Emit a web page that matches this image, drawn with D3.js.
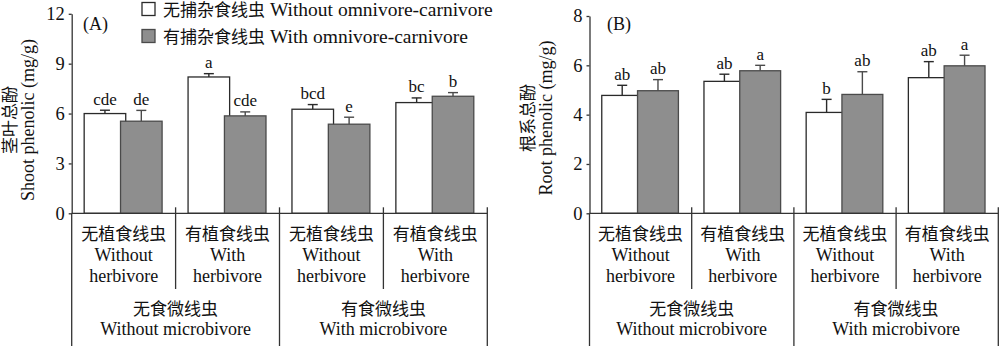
<!DOCTYPE html>
<html>
<head>
<meta charset="utf-8">
<script src="https://cdn.jsdelivr.net/npm/d3@7/dist/d3.min.js"></script>
<style>
  html, body { margin: 0; padding: 0; background: #fff; }
  svg { display: block; }
  text { font-family: "Liberation Serif", "Noto Sans CJK SC", serif; fill: #111; }
</style>
</head>
<body>
<svg id="chart" width="1000" height="346"></svg>
<script>
// Treatment groups along the x axis
const groups = ["G1", "G2", "G3", "G4"];
const herbivoreCN = ["无植食线虫", "有植食线虫", "无植食线虫", "有植食线虫"];
const herbivoreEN1 = ["Without", "With", "Without", "With"];
const herbivoreEN2 = ["herbivore", "herbivore", "herbivore", "herbivore"];
const microbivoreCN = ["无食微线虫", "有食微线虫"];
const microbivoreEN = ["Without microbivore", "With microbivore"];
const seriesNamesCN = ["无捕杂食线虫", "有捕杂食线虫"];
const seriesNamesEN = ["Without omnivore-carnivore", "With omnivore-carnivore"];

// (A) shoot phenolic, mg/g
const shootWithout = [6.0, 8.2, 6.26, 6.66];
const shootWithoutErr = [0.2, 0.2, 0.28, 0.28];
const shootWith = [5.54, 5.86, 5.36, 7.04];
const shootWithErr = [0.65, 0.24, 0.42, 0.22];
const shootLettersWithout = ["cde", "a", "bcd", "bc"];
const shootLettersWith = ["de", "cde", "e", "b"];
const shootTicks = [0, 3, 6, 9, 12];

// (B) root phenolic, mg/g
const rootWithout = [4.78, 5.35, 4.09, 5.5];
const rootWithoutErr = [0.41, 0.29, 0.53, 0.65];
const rootWith = [4.97, 5.78, 4.82, 5.98];
const rootWithErr = [0.45, 0.22, 0.92, 0.43];
const rootLettersWithout = ["ab", "ab", "b", "ab"];
const rootLettersWith = ["ab", "a", "ab", "a"];
const rootTicks = [0, 2, 4, 6, 8];

const svg = d3.select("#chart");
const H = 346;
const GREY = "#8e8e8e";

function drawPanel(opt) {
  const g = svg.append("g");
  const y = d3.scaleLinear().domain([0, opt.ticks[opt.ticks.length - 1]]).range([213.3, opt.top]);
  const x = d3.scaleBand().domain(groups).range([opt.left, opt.right]).padding(0);
  const bw = x.bandwidth();
  // bar offsets within a group
  const sub = d3.scaleOrdinal().domain([0, 1]).range([0.12, 0.47]);
  const barW = bw * 0.40;

  const series = [
    { vals: opt.without, errs: opt.withoutErr, letters: opt.lettersWithout, fill: "#fff", stroke: "#2a2a2a" },
    { vals: opt.with, errs: opt.withErr, letters: opt.lettersWith, fill: GREY, stroke: "#4a4a4a" }
  ];

  series.forEach((s, si) => {
    const items = groups.map((k, i) => ({ k, v: s.vals[i], e: s.errs[i], l: s.letters[i] }));
    const bx = d => x(d.k) + bw * sub(si);
    // error bars
    g.selectAll(null).data(items).enter().append("line")
      .attr("x1", d => bx(d) + barW / 2).attr("x2", d => bx(d) + barW / 2)
      .attr("y1", d => y(d.v)).attr("y2", d => y(d.v + d.e))
      .attr("stroke", s.stroke).attr("stroke-width", 1.4);
    g.selectAll(null).data(items).enter().append("line")
      .attr("x1", d => bx(d) + barW / 2 - 5).attr("x2", d => bx(d) + barW / 2 + 5)
      .attr("y1", d => y(d.v + d.e)).attr("y2", d => y(d.v + d.e))
      .attr("stroke", s.stroke).attr("stroke-width", 1.4);
    // bars
    g.selectAll(null).data(items).enter().append("rect")
      .attr("x", d => bx(d)).attr("width", barW)
      .attr("y", d => y(d.v)).attr("height", d => y(0) - y(d.v))
      .attr("fill", s.fill).attr("stroke", s.stroke).attr("stroke-width", 1.3);
    // significance letters
    g.selectAll(null).data(items).enter().append("text")
      .attr("x", d => bx(d) + barW / 2).attr("y", d => y(d.v + d.e) - 5.5)
      .attr("text-anchor", "middle").attr("font-size", 17)
      .text(d => d.l);
  });

  // y axis
  const ax = g.append("g").attr("transform", `translate(${opt.left},0)`)
    .call(d3.axisLeft(y).tickValues(opt.ticks).tickSize(3).tickSizeOuter(0).tickPadding(4));
  ax.selectAll("path, line").attr("stroke", "#333").attr("stroke-width", 1.3);
  ax.selectAll("text").style("font-size", "18.5px").style("font-family", "'Liberation Serif', serif").attr("fill", "#111");
  // y axis continues down through the category table
  g.append("line").attr("x1", opt.left).attr("x2", opt.left).attr("y1", y(0)).attr("y2", H)
    .attr("stroke", "#333").attr("stroke-width", 1.3);
  // baseline
  g.append("line").attr("x1", opt.left).attr("x2", opt.right).attr("y1", y(0)).attr("y2", y(0))
    .attr("stroke", "#333").attr("stroke-width", 1.3);
  // group separators
  groups.forEach((k, i) => {
    const sx = x(k) + bw;
    g.append("line").attr("x1", sx).attr("x2", sx)
      .attr("y1", y(0) - 6).attr("y2", i % 2 === 1 ? H : 289)
      .attr("stroke", "#333").attr("stroke-width", 1.3);
  });
  // herbivore labels
  groups.forEach((k, i) => {
    const cx = x(k) + bw / 2;
    [herbivoreCN[i], herbivoreEN1[i], herbivoreEN2[i]].forEach((t, j) => {
      g.append("text").attr("x", cx).attr("y", 239.5 + j * 21)
        .attr("text-anchor", "middle").attr("font-size", j ? 18 : 17).text(t);
    });
  });
  // microbivore labels
  [0, 1].forEach(m => {
    const cx = x(groups[m * 2]) + bw;
    g.append("text").attr("x", cx).attr("y", 314.5).attr("text-anchor", "middle").attr("font-size", 17).text(microbivoreCN[m]);
    g.append("text").attr("x", cx).attr("y", 334.5).attr("text-anchor", "middle").attr("font-size", 18).text(microbivoreEN[m]);
  });
  // panel tag
  g.append("text").attr("x", opt.tagX).attr("y", 30).attr("font-size", 18).text(opt.tag);
  // y titles
  g.append("text").attr("transform", `translate(${opt.cnX},${opt.titleY}) rotate(-90)`)
    .attr("text-anchor", "middle").attr("font-size", 17).text(opt.titleCN);
  g.append("text").attr("transform", `translate(${opt.enX},${opt.titleY}) rotate(-90)`)
    .attr("text-anchor", "middle").attr("font-size", 18).text(opt.titleEN);
}

drawPanel({
  left: 71.7, right: 487.3, top: 13.8, ticks: shootTicks,
  without: shootWithout, withoutErr: shootWithoutErr, with: shootWith, withErr: shootWithErr,
  lettersWithout: shootLettersWithout, lettersWith: shootLettersWith,
  tag: "(A)", tagX: 83, titleCN: "茎叶总酚", titleEN: "Shoot phenolic (mg/g)", cnX: 16, enX: 34, titleY: 120
});
drawPanel({
  left: 589.5, right: 998.3, top: 16, ticks: rootTicks,
  without: rootWithout, withoutErr: rootWithoutErr, with: rootWith, withErr: rootWithErr,
  lettersWithout: rootLettersWithout, lettersWith: rootLettersWith,
  tag: "(B)", tagX: 607, titleCN: "根系总酚", titleEN: "Root phenolic (mg/g)", cnX: 534, enX: 552, titleY: 118
});

// legend
const legend = svg.append("g");
const legendFill = ["#fff", GREY];
seriesNamesCN.forEach((name, i) => {
  legend.append("rect").attr("x", 142).attr("y", 2.5 + i * 27).attr("width", 13).attr("height", 13)
    .attr("fill", legendFill[i]).attr("stroke", i ? "#4a4a4a" : "#2a2a2a").attr("stroke-width", 1.3);
  const t = legend.append("text").attr("x", 163).attr("y", 15.5 + i * 27);
  t.append("tspan").attr("font-size", 17).text(name);
  t.append("tspan").attr("font-size", 19.5).text(" " + seriesNamesEN[i]);
});
</script>
</body>
</html>
